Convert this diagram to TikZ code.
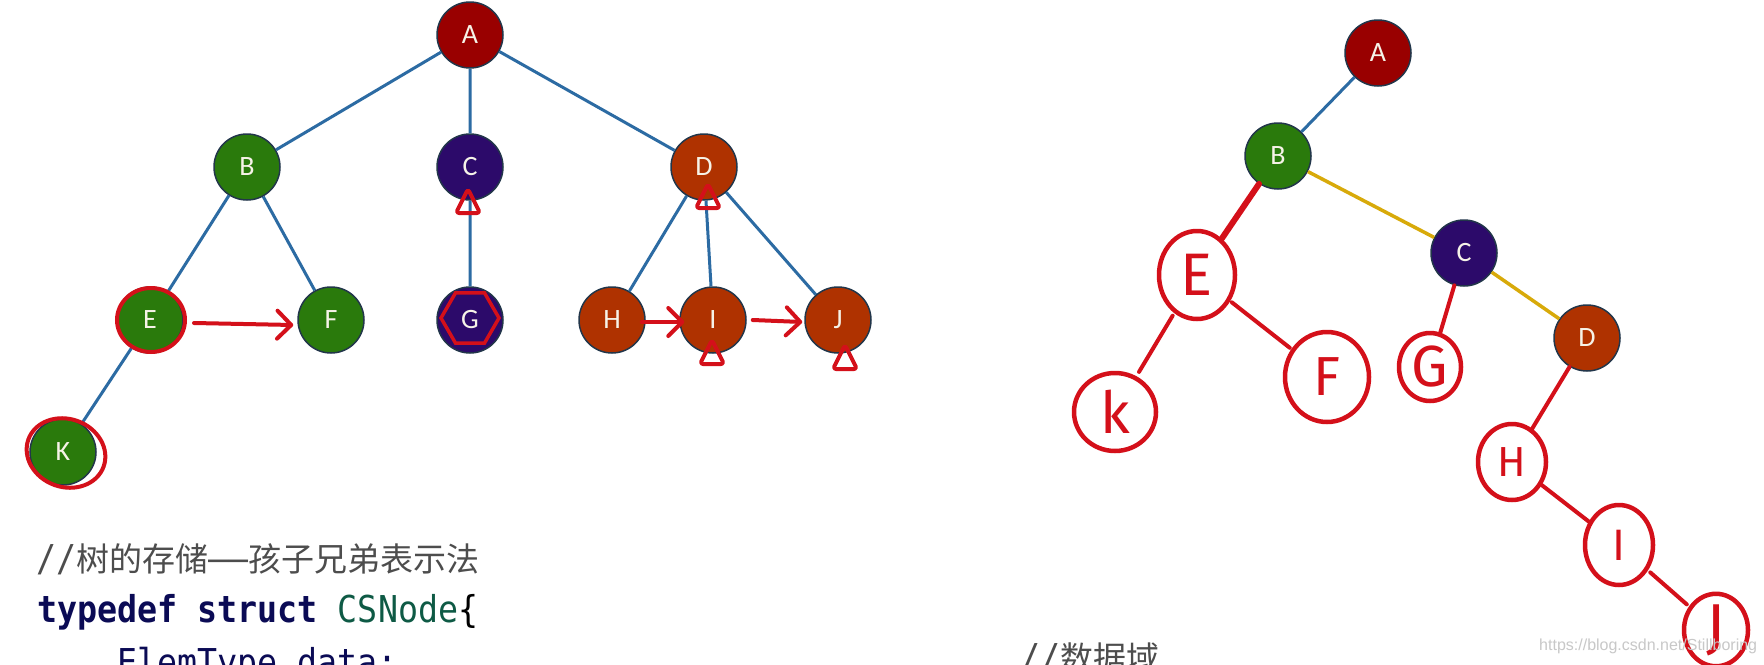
\documentclass[tikz,border=0pt]{standalone}
\usepackage{fontspec}
\setmainfont{Carlito}
\newfontfamily\nodefont{Carlito}
\newfontfamily\codefont[FakeStretch=0.9]{DejaVu Sans Mono}
\newfontfamily\cjkfont{Noto Sans CJK SC}
\newfontfamily\wmfont{Liberation Sans}
\newfontfamily\handfont{Fira Sans}
\usetikzlibrary{arrows.meta,shapes.geometric}
\definecolor{cA}{HTML}{990000}
\definecolor{cGr}{HTML}{2A7A0C}
\definecolor{cPu}{HTML}{2C0A6A}
\definecolor{cOr}{HTML}{AF3200}
\definecolor{edgeblue}{HTML}{2C6BA3}
\definecolor{gold}{HTML}{D8AA0A}
\definecolor{penred}{HTML}{D4101A}
\definecolor{outl}{HTML}{22364A}
\definecolor{kw}{HTML}{0B0B55}
\definecolor{ty}{HTML}{0E5A45}
\definecolor{cmt}{HTML}{4D4D4D}
\definecolor{wm}{HTML}{C8C8C8}
\definecolor{ntext}{HTML}{F6F3E8}
\tikzset{
  tn/.style={circle, draw=outl, line width=1.5pt, minimum size=66pt, inner sep=0pt,
    text=ntext, font=\nodefont\fontsize{28}{28}\selectfont},
  treeline/.style={draw=edgeblue, line width=3pt},
  goldline/.style={draw=gold, line width=3.5pt},
  penline/.style={draw=penred, line width=4pt, line cap=round, line join=round},
  pencircle/.style={ellipse, draw=penred, line width=4.5pt, inner sep=0pt},
  hand/.style={pencircle, text=penred, font=\handfont\fontsize{#1}{#1}\selectfont},
  penarrow/.style={penline, -{Straight Barb[length=14pt,width=28pt,round]}},
  codeline/.style={anchor=base west, inner sep=0pt}
}
\newcommand\nulltri[1]{\draw[penline, rounded corners=3pt, shift={(#1)}] (0,-12) -- (-12,12) -- (12,12) -- cycle;}
\begin{document}
\begin{tikzpicture}[x=1pt, y=-1pt]
\fill[white] (0,0) rectangle (1764,664);
\useasboundingbox (0,0) rectangle (1764,664);

% ---------- left tree ----------
\node[tn, fill=cA]  (A) at (470,35)  {A};
\node[tn, fill=cGr] (B) at (247,167) {B};
\node[tn, fill=cPu] (C) at (470,167) {C};
\node[tn, fill=cOr] (D) at (704,167) {D};
\node[tn, fill=cGr] (E) at (150,320) {E};
\node[tn, fill=cGr] (F) at (331,320) {F};
\node[tn, fill=cPu] (G) at (470,320) {G};
\node[tn, fill=cOr] (H) at (612,320) {H};
\node[tn, fill=cOr] (I) at (713,320) {I};
\node[tn, fill=cOr] (J) at (838,320) {J};
\node[tn, fill=cGr] (K) at (63,452)  {K};
\draw[treeline] (A)--(B) (A)--(C) (A)--(D) (B)--(E) (B)--(F) (C)--(G)
  (D)--(H) (D)--(I) (D)--(J) (E)--(K);

% red marks on left tree
\node[pencircle, line width=4pt, minimum width=68pt, minimum height=64pt] (Emark) at (151,320) {};
\node[pencircle, line width=4pt, minimum width=80pt, minimum height=68pt, rotate=-20] (Kmark) at (66,453) {};
\node[regular polygon, regular polygon sides=6, draw=penred, line width=3.5pt, minimum size=58pt, inner sep=0pt] (Gmark) at (470,318) {};
\draw[penarrow] ([xshift=7pt,yshift=-3pt]Emark.east) -- ([xshift=-4pt,yshift=-5pt]F.west);
\draw[penarrow] ([xshift=-4pt,yshift=-2pt]H.east) -- ([xshift=5pt,yshift=-2pt]I.west);
\draw[penarrow] ([xshift=6pt]I.east) -- ([xshift=-2pt,yshift=-2pt]J.west);
\nulltri{468,201}
\nulltri{708,196}
\nulltri{712,352}
\nulltri{845,357}

% ---------- right tree ----------
\node[tn, fill=cA]  (rA) at (1378,53)  {A};
\node[tn, fill=cGr] (rB) at (1278,156) {B};
\node[tn, fill=cPu] (rC) at (1464,253) {C};
\node[tn, fill=cOr] (rD) at (1587,338) {D};
\draw[treeline] (rA)--(rB);
\draw[goldline] (rB)--(rC) (rC)--(rD);

\node[hand=60, minimum width=76pt, minimum height=88pt] (rE) at (1197,275) {E};
\node[hand=55, minimum width=84pt, minimum height=90pt] (rF) at (1327,377) {F};
\node[hand=58, minimum width=82pt, minimum height=78pt] (rK) at (1115,412) {k};
\node[hand=58, minimum width=62pt, minimum height=68pt] (rG) at (1430,367) {G};
\node[hand=42, minimum width=68pt, minimum height=76pt] (rH) at (1512,462) {H};
\node[hand=44, minimum width=68pt, minimum height=80pt] (rI) at (1619,545) {I};
\node[hand=62, minimum width=64pt, minimum height=72pt] (rJ) at (1716,630) {J};

\draw[penline, line width=6pt] (rB)--(rE);
\draw[penline, shorten <=3pt, shorten >=5pt] (rE)--(rK);
\draw[penline, shorten <=2pt, shorten >=2pt] (rE)--(rF);
\draw[penline] (rC)--(rG);
\draw[penline] (rD)--(rH);
\draw[penline] (rH)--(rI);
\draw[penline, shorten <=3pt, shorten >=3pt] (rI)--(rJ);

% ---------- code text ----------
\node[codeline, text=cmt] (code1) at (36,571)
  {{\codefont\fontsize{37}{37}\selectfont //}{\cjkfont\fontsize{33}{33}\selectfont 树的存储}{\codefont\fontsize{37}{37}\selectfont ——}{\cjkfont\fontsize{33}{33}\selectfont 孩子兄弟表示法}};
\node[codeline] (code2) at (37,622)
  {\codefont\fontsize{37}{37}\selectfont\textcolor{kw}{\bfseries typedef struct }\textcolor{ty}{CSNode}\textcolor{black}{\{}};
\node[codeline, text=kw] (code3) at (117,675)
  {\codefont\fontsize{37}{37}\selectfont ElemType data;};
\node[codeline, text=cmt] (code4) at (1020,670)
  {{\codefont\fontsize{37}{37}\selectfont //}{\cjkfont\fontsize{33}{33}\selectfont 数据域}};

% watermark
\node[codeline, text=wm, font=\wmfont\fontsize{16}{16}\selectfont] (wmark) at (1539,650)
  {https://blog.csdn.net/Stillboring};
\end{tikzpicture}
\end{document}
